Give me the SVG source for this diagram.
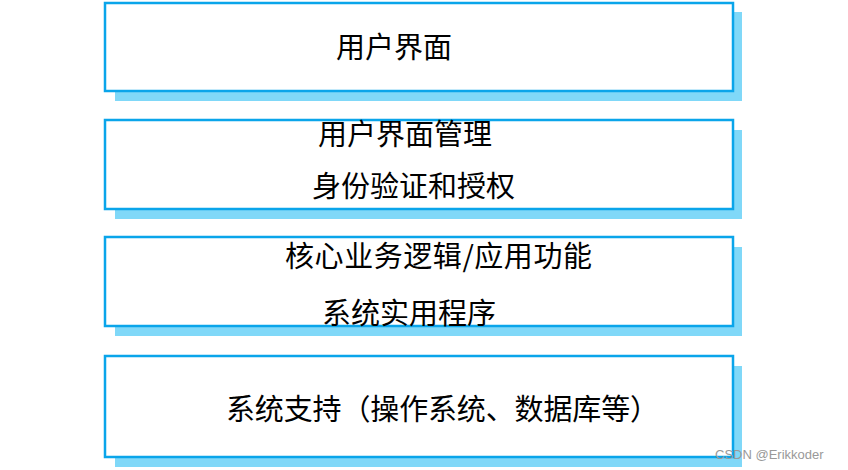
<svg xmlns="http://www.w3.org/2000/svg" width="848" height="470" viewBox="0 0 848 470">
<style>
.shadow{fill:#80d8f8;}
.box{fill:#ffffff;stroke:#0aa5ea;stroke-width:2.5;}
.t{font-family:"Noto Sans CJK SC","Noto Sans",sans-serif;font-size:29px;font-weight:400;fill:#000;}
.wm{font-family:"Liberation Sans",Arial,sans-serif;font-size:13px;fill:#999;}
</style>
<rect width="848" height="470" fill="#ffffff"/>
<g id="node-ui">
<rect class="shadow" x="115" y="12" width="627" height="89"/>
<rect class="box" x="105" y="3" width="628" height="88"/>
<text class="t" x="336" y="58">用户界面</text>
</g>
<g id="node-mgmt">
<rect class="shadow" x="115" y="130" width="627" height="89"/>
<rect class="box" x="105" y="120" width="628" height="89"/>
<text class="t" x="318" y="145">用户界面管理</text>
<text class="t" x="312" y="197">身份验证和授权</text>
</g>
<g id="node-core">
<rect class="shadow" x="115" y="247" width="627" height="89"/>
<rect class="box" x="105" y="237" width="628" height="89"/>
<text class="t" x="285" y="267" textLength="307" lengthAdjust="spacing">核心业务逻辑/应用功能</text>
<text class="t" x="322" y="324">系统实用程序</text>
</g>
<g id="node-sys">
<rect class="shadow" x="115" y="366" width="627" height="101"/>
<rect class="box" x="105" y="356" width="628" height="101"/>
<text class="t" x="226" y="420" textLength="433" lengthAdjust="spacing">系统支持（操作系统、数据库等）</text>
</g>
<g id="connectors"></g>
<text class="wm" x="715" y="459">CSDN @Erikkoder</text>
</svg>
